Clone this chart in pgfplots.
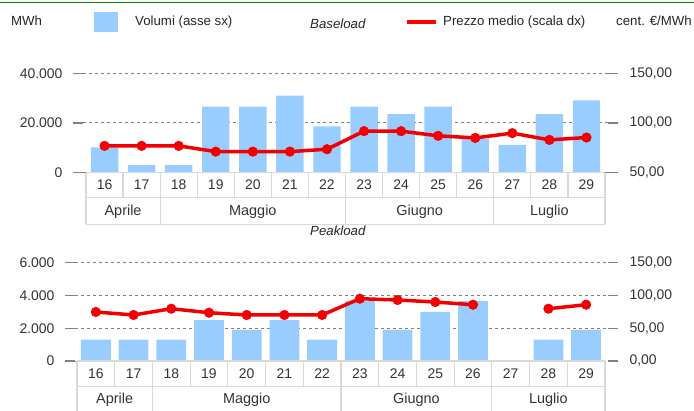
\documentclass[border=0pt]{standalone}
\usepackage{pgfplots}
\pgfplotsset{compat=1.18}
\usepackage{fontspec}
\setmainfont{Liberation Sans}
\definecolor{barblue}{HTML}{99CCFF}
\definecolor{tabgray}{HTML}{D9D9D9}
\definecolor{tickgray}{HTML}{808080}
\definecolor{txt}{HTML}{333333}
\definecolor{hdrgreen}{HTML}{008000}
\definecolor{pred}{HTML}{F20000}
\begin{document}
\begin{tikzpicture}[x=1bp,y=1bp]
\useasboundingbox (0,0) rectangle (694,410);
\pgfplotsset{
  common/.style={scale only axis, anchor=south west, clip=false,
    tick align=outside, major tick length=10bp,
    scaled y ticks=false,
    ticklabel style={font=\fontsize{14}{16}\selectfont, text=txt},
    y tick style={tickgray, line width=1.3bp},
    axis line style={draw=none}},
  leftax/.style={common, axis y line*=left, axis x line*=bottom,
    xtick={0,...,13},
    xticklabels={16,17,18,19,20,21,22,23,24,25,26,27,28,29},
    x tick style={draw=none},
    xticklabel style={anchor=center},
    yticklabel style={xshift=-7bp},
    ymajorgrids, major grid style={tickgray, dash pattern=on 3bp off 3bp, line width=1bp}},
  rightax/.style={common, axis y line*=right, axis x line=none,
    yticklabel style={xshift=8bp}},
  priceline/.style={pred, line width=3.5bp, line join=round, mark=*, mark size=4.8bp,
    mark options={fill=pred, draw=pred, line width=0.5bp}},
}
% header
\draw[hdrgreen, line width=1.3bp] (0,407.3) -- (694,407.3);
\begin{scope}[every node/.style={inner sep=0pt, font=\fontsize{13.3}{16}\selectfont, text=black!85}]
\node[anchor=base west] at (11,385) {MWh};
\fill[barblue] (94,378) rectangle (118,398);
\node[anchor=base west] at (135,385) {Volumi (asse sx)};
\node[anchor=base west] at (310,382) {\itshape Baseload};
\draw[red, line width=4.5bp] (407,388) -- (436,388);
\node[anchor=base west] at (443,385) {Prezzo medio (scala dx)};
\node[anchor=base west] at (616,385) {cent. €/MWh};
\node[anchor=base west] at (310,174.3) {\itshape Peakload};
\end{scope}

% ===== Baseload =====
\begin{axis}[leftax, at={(83bp,237.3bp)}, width=525bp, height=99.4bp,
  xmin=-0.581, xmax=13.581, ymin=0, ymax=40000,
  xticklabel style={yshift=-2bp},
  ytick={0,20000,40000}, yticklabels={0,20.000,40.000}]
\addplot[ybar, bar width=0.74, fill=barblue, draw=none] coordinates {
(0,10200) (1,3000) (2,3000) (3,26600) (4,26600) (5,31000) (6,18600)
(7,26600) (8,23600) (9,26600) (10,13700) (11,11200) (12,23600) (13,29100)};
\end{axis}
\begin{scope}[tabgray, line width=1.2bp]
\draw (86,237.3) -- (605,237.3) (86,212.7) -- (605,212.7) (86,185.7) -- (605,185.7);
\foreach \k in {0,...,14} \draw ({86+37.07*\k},237.3) -- ({86+37.07*\k},212.7);
\foreach \k in {0,2,7,11,14} \draw ({86+37.07*\k},212.7) -- ({86+37.07*\k},185.7);
\end{scope}
\begin{scope}[every node/.style={inner sep=0pt, font=\fontsize{14.5}{16}\selectfont, text=txt}]
\node at ({86+37.07*1},198) {Aprile};
\node at ({86+37.07*4.5},198) {Maggio};
\node at ({86+37.07*9},198) {Giugno};
\node at ({86+37.07*12.5},198) {Luglio};
\end{scope}
\begin{axis}[rightax, at={(83bp,237.3bp)}, width=525bp, height=99.4bp,
  xmin=-0.581, xmax=13.581, ymin=50, ymax=150,
  ytick={50,100,150}, yticklabels={{50,00},{100,00},{150,00}}]
\addplot[priceline] coordinates {
(0,77.0) (1,77.0) (2,77.0) (3,71.2) (4,71.2) (5,71.2) (6,73.6)
(7,91.8) (8,91.8) (9,87.1) (10,85.0) (11,89.8) (12,83.0) (13,85.4)};
\end{axis}

% ===== Peakload =====
\begin{axis}[leftax, at={(75bp,49bp)}, width=533bp, height=98.3bp,
  xmin=-0.553, xmax=13.58, ymin=0, ymax=6000,
  xticklabel style={yshift=-2.5bp},
  ytick={0,2000,4000,6000}, yticklabels={0,2.000,4.000,6.000}]
\addplot[ybar, bar width=0.79, fill=barblue, draw=none] coordinates {
(0,1300) (1,1300) (2,1300) (3,2500) (4,1900) (5,2500) (6,1300)
(7,3650) (8,1900) (9,3000) (10,3650) (11,0) (12,1300) (13,1900)};
\end{axis}
\begin{scope}[tabgray, line width=1.2bp]
\draw (77,49) -- (605,49) (77,23.3) -- (605,23.3) (77,-3) -- (605,-3);
\foreach \k in {0,...,14} \draw ({77+37.71*\k},49) -- ({77+37.71*\k},23.3);
\foreach \k in {0,2,7,11,14} \draw ({77+37.71*\k},23.3) -- ({77+37.71*\k},-3);
\end{scope}
\begin{scope}[every node/.style={inner sep=0pt, font=\fontsize{14.5}{16}\selectfont, text=txt}]
\node at ({77+37.71*1},10) {Aprile};
\node at ({77+37.71*4.5},10) {Maggio};
\node at ({77+37.71*9},10) {Giugno};
\node at ({77+37.71*12.5},10) {Luglio};
\end{scope}
\begin{axis}[rightax, at={(75bp,49bp)}, width=533bp, height=98.3bp,
  xmin=-0.553, xmax=13.58, ymin=0, ymax=150,
  unbounded coords=jump,
  ytick={0,50,100,150}, yticklabels={{0,00},{50,00},{100,00},{150,00}}]
\addplot[priceline] coordinates {
(0,74.8) (1,70.2) (2,79.8) (3,73.7) (4,70.2) (5,70.2) (6,70.2)
(7,95.1) (8,93.1) (9,90.0) (10,85.9) (11,nan) (12,79.8) (13,85.9)};
\end{axis}
\end{tikzpicture}
\end{document}
